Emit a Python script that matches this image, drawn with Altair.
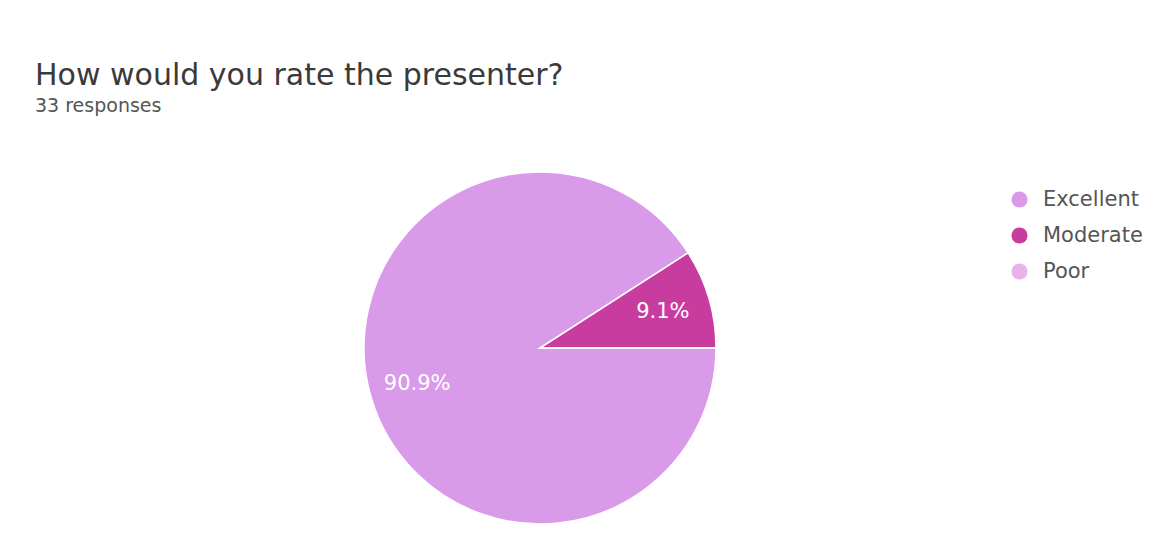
import math
import altair as alt
import pandas as pd

categories = ["Excellent", "Moderate", "Poor"]
counts = [30, 3, 0]
labels = ["90.9%", "9.1%", ""]
colors = ["#d99be9", "#c93c9f", "#e8b3e8"]

df = pd.DataFrame({
    "rating": categories,
    "count": counts,
    "label": labels,
    "order": list(range(len(categories))),
})

FONT = "DejaVu Sans"

theta_scale = alt.Scale(range=[math.pi / 2, math.pi / 2 + 2 * math.pi])

base = alt.Chart(df).encode(
    theta=alt.Theta("count:Q", stack=True, scale=theta_scale),
    order=alt.Order("order:Q"),
)

pie = base.mark_arc(outerRadius=176, stroke="white", strokeWidth=1.5).encode(
    color=alt.Color(
        "rating:N",
        sort=categories,
        scale=alt.Scale(domain=categories, range=colors),
        legend=alt.Legend(
            title=None,
            orient="none",
            legendX=1001,
            legendY=31,
            padding=0,
            symbolType="circle",
            symbolSize=260,
            symbolStrokeWidth=0,
            labelFontSize=21,
            labelFont=FONT,
            labelColor="#555555",
            rowPadding=14,
            labelOffset=13,
        ),
    )
)

text = base.mark_text(radius=128, fontSize=21, font=FONT, color="white").encode(
    text="label:N"
)

chart = (
    alt.layer(pie, text)
    .properties(
        width=1064,
        height=380,
        padding={"left": 0, "top": 150, "right": 84, "bottom": 0},
        autosize=alt.AutoSizeParams(type="none"),
        title=alt.TitleParams(
            text="How would you rate the presenter?",
            subtitle="33 responses",
            anchor="start",
            frame="group",
            dx=27,
            offset=42,
            font=FONT,
            fontSize=30,
            fontWeight="normal",
            color="#3a3a3a",
            subtitleFont=FONT,
            subtitleFontSize=19,
            subtitleColor="#555555",
            subtitlePadding=6,
        ),
    )
    .configure_view(stroke=None)
    .configure(background="white")
)

chart.save("out.html", embed_options={"renderer": "svg", "actions": False})
